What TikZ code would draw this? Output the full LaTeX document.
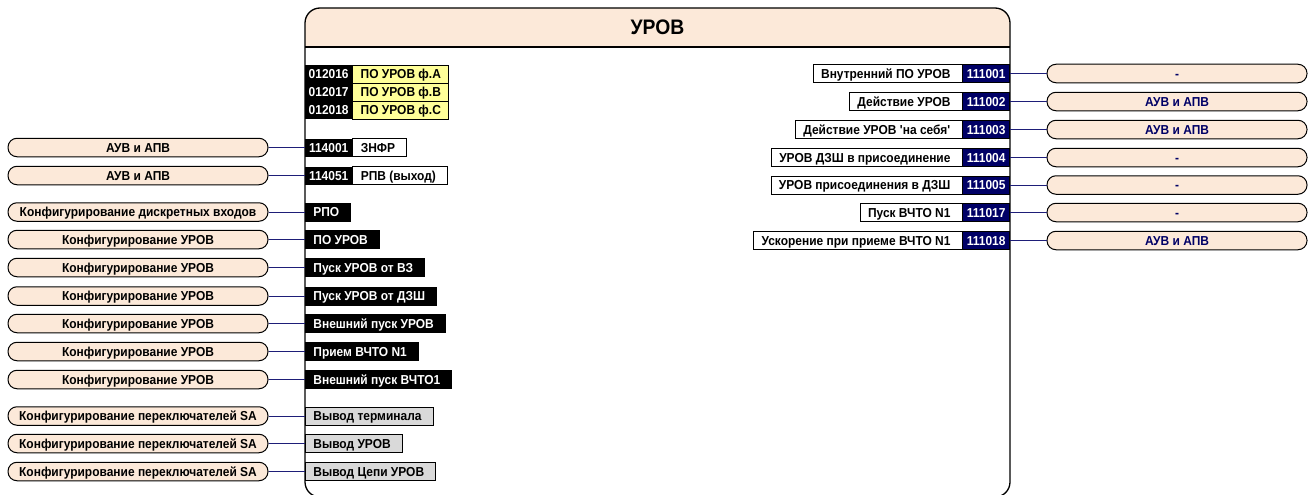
\documentclass[tikz,border=0pt]{standalone}
\usepackage{fontspec}
\setmainfont{Liberation Sans}[FakeStretch=0.92]
\usetikzlibrary{positioning}

\definecolor{peach}{RGB}{252,233,217}
\definecolor{navy}{RGB}{0,0,102}
\definecolor{lnkblue}{RGB}{30,30,120}
\definecolor{ylw}{RGB}{255,255,153}
\definecolor{gry}{RGB}{217,217,217}

\newcommand\lbfont{\bfseries\fontsize{13}{13}\selectfont}

\tikzset{
	box/.style={minimum height=18pt, inner ysep=0pt, text height=9.3pt, text depth=0pt, font=\lbfont},
	oval/.style={box, draw=black, line width=1pt, fill=peach, rounded corners=9pt, minimum width=260pt, minimum height=18.5pt, inner xsep=0pt},
	roval/.style={oval, text=navy},
	code/.style={box, fill=black, text=white, minimum width=47pt, inner xsep=0pt},
	rcode/.style={code, fill=navy, draw=black, line width=0.6pt},
	lbl/.style={box, draw=black, line width=0.8pt, fill=white, inner xsep=8pt, execute at end node={\hspace{3.5pt}}},
	blab/.style={lbl, fill=black, text=white},
	glab/.style={lbl, fill=gry},
	ylab/.style={box, draw=black, line width=0.8pt, fill=ylw, minimum width=96pt, inner xsep=0pt},
	lnk/.style={draw=lnkblue, line width=0.9pt}
}

\begin{document}
\begin{tikzpicture}[x=1pt,y=-1pt]
	\useasboundingbox (0,0) rectangle (1309,495);

	% main block
	\begin{scope}
		\clip (305,0) rectangle (1010,47);
		\fill[peach, rounded corners=15pt] (305,8) rectangle (1010,497);
	\end{scope}
	\draw[line width=1.3pt, rounded corners=15pt] (305,8) rectangle (1010,497);
	\draw[line width=1.3pt] (305,47) -- (1010,47);
	\node[font=\bfseries\fontsize{21}{21}\selectfont, text height=15pt, text depth=0pt, inner sep=0pt] (title) at (657.5,27.5) {УРОВ};

	% yellow inputs
	\node[code, anchor=west] (y1c) at (305,74) {012016};
	\node[ylab, right=0pt of y1c] (y1) {ПО УРОВ ф.А};
	\node[code, anchor=west] (y2c) at (305,92) {012017};
	\node[ylab, right=0pt of y2c] (y2) {ПО УРОВ ф.В};
	\node[code, anchor=west] (y3c) at (305,110) {012018};
	\node[ylab, right=0pt of y3c] (y3) {ПО УРОВ ф.С};

	% left inputs
	\node[oval] (o1) at (138,147.5) {АУВ и АПВ};
	\node[code, anchor=west] (c1) at (305,147.5) {114001};
	\node[lbl, right=0pt of c1] (l1) {ЗНФР};
	\node[oval] (o2) at (138,175.5) {АУВ и АПВ};
	\node[code, anchor=west] (c2) at (305,175.5) {114051};
	\node[lbl, right=0pt of c2] (l2) {РПВ (выход)};

	\node[oval] (o3) at (138,212) {Конфигурирование дискретных входов};
	\node[blab, anchor=west] (c3) at (305,212) {РПО};
	\node[oval] (o4) at (138,239.5) {Конфигурирование УРОВ};
	\node[blab, anchor=west] (c4) at (305,239.5) {ПО УРОВ};
	\node[oval] (o5) at (138,267.5) {Конфигурирование УРОВ};
	\node[blab, anchor=west] (c5) at (305,267.5) {Пуск УРОВ от ВЗ};
	\node[oval] (o6) at (138,296) {Конфигурирование УРОВ};
	\node[blab, anchor=west] (c6) at (305,296) {Пуск УРОВ от ДЗШ};
	\node[oval] (o7) at (138,323.5) {Конфигурирование УРОВ};
	\node[blab, anchor=west] (c7) at (305,323.5) {Внешний пуск УРОВ};
	\node[oval] (o8) at (138,351.5) {Конфигурирование УРОВ};
	\node[blab, anchor=west] (c8) at (305,351.5) {Прием ВЧТО N1};
	\node[oval] (o9) at (138,379.5) {Конфигурирование УРОВ};
	\node[blab, anchor=west] (c9) at (305,379.5) {Внешний пуск ВЧТО1};

	\node[oval] (o10) at (138,416) {Конфигурирование переключателей SA};
	\node[glab, anchor=west] (c10) at (305,416) {Вывод терминала};
	\node[oval] (o11) at (138,443.5) {Конфигурирование переключателей SA};
	\node[glab, anchor=west] (c11) at (305,443.5) {Вывод УРОВ};
	\node[oval] (o12) at (138,471.5) {Конфигурирование переключателей SA};
	\node[glab, anchor=west] (c12) at (305,471.5) {Вывод Цепи УРОВ};

	\draw[lnk] (o1) -- (c1);
	\draw[lnk] (o2) -- (c2);
	\draw[lnk] (o3) -- (c3);
	\draw[lnk] (o4) -- (c4);
	\draw[lnk] (o5) -- (c5);
	\draw[lnk] (o6) -- (c6);
	\draw[lnk] (o7) -- (c7);
	\draw[lnk] (o8) -- (c8);
	\draw[lnk] (o9) -- (c9);
	\draw[lnk] (o10) -- (c10);
	\draw[lnk] (o11) -- (c11);
	\draw[lnk] (o12) -- (c12);

	% right outputs
	\node[rcode, anchor=east] (r1c) at (1010,73.5) {111001};
	\node[lbl, left=0pt of r1c] (r1) {Внутренний ПО УРОВ};
	\node[roval] (ro1) at (1177,73.5) {-};
	\node[rcode, anchor=east] (r2c) at (1010,101.5) {111002};
	\node[lbl, left=0pt of r2c] (r2) {Действие УРОВ};
	\node[roval] (ro2) at (1177,101.5) {АУВ и АПВ};
	\node[rcode, anchor=east] (r3c) at (1010,129.5) {111003};
	\node[lbl, left=0pt of r3c] (r3) {Действие УРОВ \textquotesingle на себя\textquotesingle};
	\node[roval] (ro3) at (1177,129.5) {АУВ и АПВ};
	\node[rcode, anchor=east] (r4c) at (1010,157.5) {111004};
	\node[lbl, left=0pt of r4c] (r4) {УРОВ ДЗШ в присоединение};
	\node[roval] (ro4) at (1177,157.5) {-};
	\node[rcode, anchor=east] (r5c) at (1010,185) {111005};
	\node[lbl, left=0pt of r5c] (r5) {УРОВ присоединения в ДЗШ};
	\node[roval] (ro5) at (1177,185) {-};
	\node[rcode, anchor=east] (r6c) at (1010,212.5) {111017};
	\node[lbl, left=0pt of r6c] (r6) {Пуск ВЧТО N1};
	\node[roval] (ro6) at (1177,212.5) {-};
	\node[rcode, anchor=east] (r7c) at (1010,240.5) {111018};
	\node[lbl, left=0pt of r7c] (r7) {Ускорение при приеме ВЧТО N1};
	\node[roval] (ro7) at (1177,240.5) {АУВ и АПВ};

	\draw[lnk] (r1c) -- (ro1);
	\draw[lnk] (r2c) -- (ro2);
	\draw[lnk] (r3c) -- (ro3);
	\draw[lnk] (r4c) -- (ro4);
	\draw[lnk] (r5c) -- (ro5);
	\draw[lnk] (r6c) -- (ro6);
	\draw[lnk] (r7c) -- (ro7);

\end{tikzpicture}
\end{document}
